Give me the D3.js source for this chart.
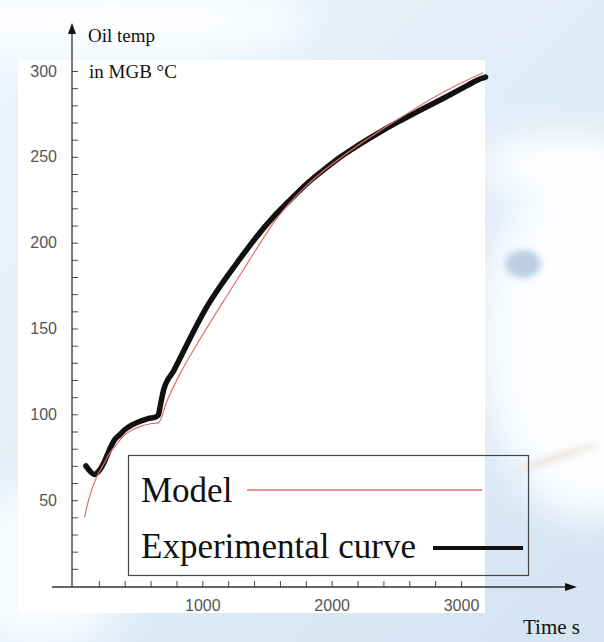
<!DOCTYPE html>
<html>
<head>
<meta charset="utf-8">
<script src="https://cdn.jsdelivr.net/npm/d3@7"></script>
<style>
  html, body { margin: 0; padding: 0; background: #ffffff; }
  svg { display: block; }
</style>
</head>
<body>
<svg id="chart" width="604" height="642"></svg>
<script>
// ---- data ----
const expTime = [100, 130, 165, 200, 240, 280, 320, 360, 400, 460, 520, 580, 640, 658, 680, 700, 780, 850, 930, 1030, 1160, 1290, 1420, 1550, 1680, 1810, 1940, 2070, 2200, 2400, 2530, 2660, 2790, 2920, 3050, 3150, 3190];
const expTemp = [70, 67, 65, 67, 72, 79, 85, 88, 91, 94, 96, 97.5, 98.5, 99.5, 107, 114, 125.5, 136, 148, 162, 177, 190.5, 203.5, 215, 225, 234.5, 242.5, 250, 256.5, 265.6, 271, 276.2, 281.2, 286.3, 291.6, 295.5, 296.5];

const modelTime = [90, 110, 140, 183, 230, 280, 330, 400, 460, 520, 600, 660, 725, 830, 960, 1085, 1215, 1345, 1420, 1550, 1680, 1810, 1940, 2070, 2200, 2400, 2600, 2800, 3000, 3170];
const modelTemp = [40, 47, 55, 63.5, 70, 77, 82, 88, 91, 93, 94.5, 95, 107.5, 124, 141, 156.5, 172, 187.5, 196.5, 211.5, 223.5, 233.5, 242, 249.5, 256.5, 266.5, 276, 285, 293, 299];

const xTicks = d3.range(200, 3001, 200);
const yTicks = d3.range(10, 301, 10);
const xLabels = [1000, 2000, 3000];
const yLabels = [50, 100, 150, 200, 250, 300];

const legendItems = ["Model", "Experimental curve"];
const yTitle = ["Oil temp", "in MGB °C"];
const xTitle = "Time s";

// ---- drawing ----
const svg = d3.select("#chart");
const defs = svg.append("defs");

const bgGrad = defs.append("linearGradient").attr("id", "bgGrad")
  .attr("x1", "0").attr("y1", "0").attr("x2", "1").attr("y2", "1");
bgGrad.append("stop").attr("offset", "0").attr("stop-color", "#eef5fb");
bgGrad.append("stop").attr("offset", "0.5").attr("stop-color", "#e0ecf7");
bgGrad.append("stop").attr("offset", "1").attr("stop-color", "#d4e4f3");

defs.append("filter").attr("id", "blur").attr("x", "-50%").attr("y", "-50%").attr("width", "200%").attr("height", "200%")
  .append("feGaussianBlur").attr("stdDeviation", 18);
defs.append("filter").attr("id", "blurS").attr("x", "-50%").attr("y", "-50%").attr("width", "200%").attr("height", "200%")
  .append("feGaussianBlur").attr("stdDeviation", 3);

const bg = svg.append("g");
bg.append("rect").attr("width", 604).attr("height", 642).attr("fill", "url(#bgGrad)");
bg.append("ellipse").attr("cx", 110).attr("cy", 20).attr("rx", 200).attr("ry", 40).attr("fill", "#fbfdff").attr("filter", "url(#blur)");
bg.append("ellipse").attr("cx", 40).attr("cy", 570).attr("rx", 90).attr("ry", 80).attr("fill", "#f8fbfe").attr("filter", "url(#blur)");
bg.append("ellipse").attr("cx", 590).attr("cy", 340).attr("rx", 110).attr("ry", 180).attr("fill", "#fbfdff").attr("filter", "url(#blur)");
bg.append("ellipse").attr("cx", 560).attr("cy", 165).attr("rx", 80).attr("ry", 30).attr("fill", "#ffffff").attr("filter", "url(#blur)");
bg.append("ellipse").attr("cx", 523).attr("cy", 264).attr("rx", 18).attr("ry", 14).attr("fill", "#bccfe2").attr("filter", "url(#blurS)");
bg.append("ellipse").attr("cx", 0).attr("cy", 0).attr("rx", 45).attr("ry", 4)
  .attr("transform", "translate(555,458) rotate(-18)")
  .attr("fill", "#e6d8c8").attr("opacity", 0.6).attr("filter", "url(#blurS)");
// white panel behind the plot
bg.append("rect").attr("x", 18).attr("y", 60).attr("width", 467).attr("height", 553).attr("fill", "#ffffff");

const x = d3.scaleLinear().domain([0, 3000]).range([73, 461]);
const y = d3.scaleLinear().domain([0, 300]).range([586, 71]);

const axisColor = "#4a4a4a";
const labelColor = "#555555";

// x axis
const gx = svg.append("g").attr("transform", `translate(0,${y(0) + 1})`)
  .call(d3.axisBottom(x).tickValues(xTicks).tickSize(-6).tickPadding(13)
    .tickFormat(d => xLabels.includes(d) ? String(d) : ""));
gx.select(".domain").remove();
gx.selectAll(".tick line").attr("stroke", axisColor).attr("stroke-width", 1);
gx.selectAll(".tick text").attr("fill", labelColor).attr("font-family", "Liberation Sans, Arial, sans-serif").attr("font-size", 16);

// y axis
const gy = svg.append("g").attr("transform", `translate(${x(0) - 1},0)`)
  .call(d3.axisLeft(y).tickValues(yTicks).tickSize(-6).tickPadding(15)
    .tickFormat(d => yLabels.includes(d) ? String(d) : ""));
gy.select(".domain").remove();
gy.selectAll(".tick line").attr("stroke", axisColor).attr("stroke-width", 1);
gy.selectAll(".tick text").attr("fill", labelColor).attr("font-family", "Liberation Sans, Arial, sans-serif").attr("font-size", 16);

// axis lines with arrows
const ax0 = x(0) - 1, ay0 = y(0) + 1;
svg.append("line").attr("x1", 52).attr("x2", 567).attr("y1", ay0).attr("y2", ay0).attr("stroke", "#333").attr("stroke-width", 1.3);
svg.append("path").attr("d", `M577,${ay0} L565,${ay0 - 4} L565,${ay0 + 4} Z`).attr("fill", "#111");
svg.append("line").attr("x1", ax0).attr("x2", ax0).attr("y1", ay0).attr("y2", 32).attr("stroke", "#333").attr("stroke-width", 1.3);
svg.append("path").attr("d", `M${ax0},23 L${ax0 - 4},34 L${ax0 + 4},34 Z`).attr("fill", "#111");

// titles
const serif = "Liberation Serif, Times New Roman, serif";
svg.append("text").attr("x", 88).attr("y", 42).attr("font-family", serif).attr("font-size", 19).attr("fill", "#111").text(yTitle[0]);
svg.append("text").attr("x", 89).attr("y", 78).attr("font-family", serif).attr("font-size", 19).attr("fill", "#111").text(yTitle[1]);
svg.append("text").attr("x", 523).attr("y", 634).attr("font-family", serif).attr("font-size", 21).attr("fill", "#111").text(xTitle);

// curves
const expData = expTime.map((t, i) => [t, expTemp[i]]);
const modelData = modelTime.map((t, i) => [t, modelTemp[i]]);
const line = d3.line().x(d => x(d[0])).y(d => y(d[1])).curve(d3.curveMonotoneX);

svg.append("path").datum(expData).attr("d", line).attr("fill", "none")
  .attr("stroke", "#111").attr("stroke-width", 5.5).attr("stroke-linejoin", "round").attr("stroke-linecap", "round");
svg.append("path").datum(modelData).attr("d", line).attr("fill", "none")
  .attr("stroke", "#e07070").attr("stroke-width", 1.2);

// legend
const lg = svg.append("g");
lg.append("rect").attr("x", 128.5).attr("y", 455.5).attr("width", 400).attr("height", 120)
  .attr("fill", "none").attr("stroke", "#444").attr("stroke-width", 1.2);
lg.append("text").attr("x", 141).attr("y", 502).attr("font-family", serif).attr("font-size", 35).attr("fill", "#111").text(legendItems[0]);
lg.append("line").attr("x1", 247).attr("x2", 482).attr("y1", 490).attr("y2", 490).attr("stroke", "#e07070").attr("stroke-width", 1.5);
lg.append("text").attr("x", 141).attr("y", 558).attr("font-family", serif).attr("font-size", 35).attr("fill", "#111").text(legendItems[1]);
lg.append("line").attr("x1", 433).attr("x2", 523).attr("y1", 548).attr("y2", 548).attr("stroke", "#111").attr("stroke-width", 4);
</script>
</body>
</html>
